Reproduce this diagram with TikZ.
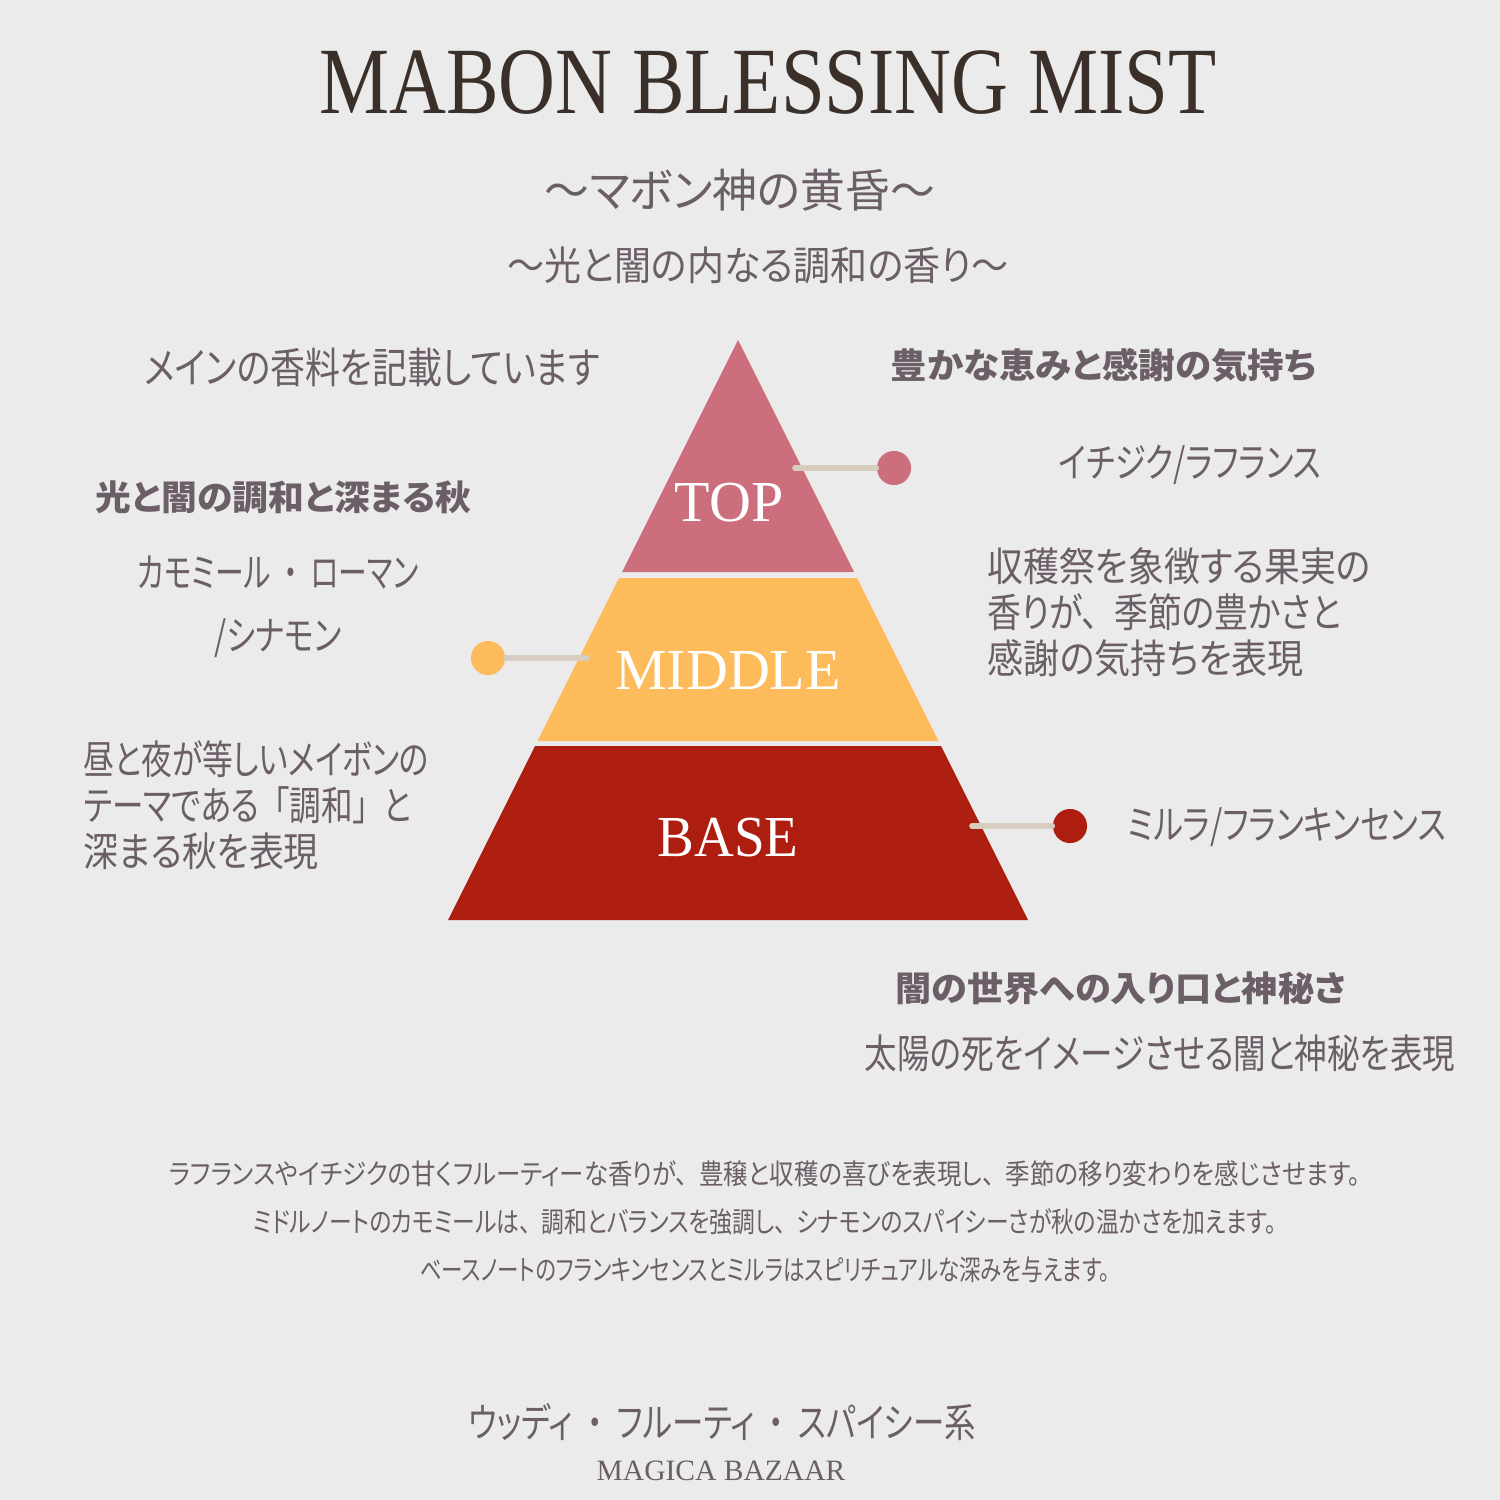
\documentclass[tikz,border=0pt]{standalone}
\usepackage{fontspec}
\setmainfont{Liberation Serif}
\newfontfamily\jp[RawFeature=+palt]{Noto Sans CJK JP}
\usepackage{tikz}
\usetikzlibrary{positioning}
\definecolor{bgc}{HTML}{EBEBEB}
\definecolor{ink}{HTML}{3A3029}
\definecolor{txt}{HTML}{6B5E67}
\definecolor{toppink}{HTML}{CC6E7B}
\definecolor{midyel}{HTML}{FDBB5B}
\definecolor{basered}{HTML}{AD1E10}
\definecolor{linkc}{HTML}{D6CCC0}
\newcommand{\fitx}[2]{\resizebox{#1}{\height}{#2}}
\newcommand{\gap}{\hspace{0.45em}}

\begin{document}
\begin{tikzpicture}[x=0.01cm,y=-0.01cm,
  jtxt/.style={text=txt,inner sep=0pt,font=\jp\fontsize{11.4pt}{13.1pt}\selectfont},
  jhead/.style={text=txt,inner sep=0pt,font=\jp\bfseries\fontsize{9.9pt}{11pt}\selectfont},
  band/.style={text=white,inner sep=0pt,font=\fontsize{16.5pt}{18pt}\selectfont},
  dot/.style={circle,minimum size=9.7pt,inner sep=0pt},
  link/.style={draw=linkc,line width=1.6pt,line cap=round}]
\fill[bgc](0,0)rectangle(1500,1500);
\useasboundingbox(0,0)rectangle(1500,1500);
% title
\node[text=ink,inner sep=0pt,font=\fontsize{27pt}{30pt}\selectfont](title) at (768,83){\scalebox{0.83}[1]{MABON BLESSING MIST}};
\node[text=txt,inner sep=0pt,font=\jp\fontsize{13pt}{15pt}\selectfont](sub1) at (740,190){\fitx{39mm}{～マボン神の黄昏～}};
\node[text=txt,inner sep=0pt,font=\jp\fontsize{11.4pt}{13pt}\selectfont](sub2) at (758,265){\fitx{50mm}{～光と闇の内なる調和の香り～}};
% pyramid
\fill[toppink](738,340)--(854,572)--(622,572)--cycle;
\fill[midyel](619,578)--(857,578)--(938.5,741)--(537.5,741)--cycle;
\fill[basered](535,746)--(941,746)--(1028,920)--(448,920)--cycle;
\node[band](top) at (729,503){TOP};
\node[band](middle) at (728,671){MIDDLE};
\node[band](base) at (728,838){\scalebox{0.95}[1]{BASE}};
% dots
\coordinate(topin) at (795,468);
\node[dot,fill=toppink](topdot) at (894,468){};
\draw[link](topin)--(topdot);
\coordinate(midin) at (587,658);
\node[dot,fill=midyel](middot) at (488,658){};
\draw[link](midin)--(middot);
\coordinate(basein) at (972,826);
\node[dot,fill=basered](basedot) at (1070,826){};
\draw[link](basein)--(basedot);
% left
\node[jtxt,font=\jp\fontsize{12pt}{14pt}\selectfont](memo) at (372,367){\fitx{45.5mm}{メインの香料を記載しています}};
\node[jhead,anchor=west](midhead) at (95,497){\fitx{37.5mm}{光と闇の調和と深まる秋}};
\node[jtxt](midnote1) at (278,573){\fitx{28.1mm}{カモミール\gap・\gap ローマン}};
\node[jtxt](midnote2) at (278,638){\fitx{12.7mm}{/シナモン}};
\node[jtxt,anchor=north west,align=left](middesc) at (83,740){\fitx{34.5mm}{昼と夜が等しいメイボンの}\\\fitx{32.7mm}{テーマである\gap「調和」\gap と}\\\fitx{23.5mm}{深まる秋を表現}};
% right
\node[jhead,anchor=west](tophead) at (890,365){\fitx{42.5mm}{豊かな恵みと感謝の気持ち}};
\node[jtxt](topnote) at (1190,465){\fitx{26.2mm}{イチジク/ラフランス}};
\node[jtxt,anchor=north west,align=left](topdesc) at (987,547){\fitx{38.3mm}{収穫祭を象徴する果実の}\\\fitx{35.3mm}{香りが、\gap 季節の豊かさと}\\\fitx{31.6mm}{感謝の気持ちを表現}};
\node[jtxt,anchor=west](basenote) at (1127,827){\fitx{31.8mm}{ミルラ/フランキンセンス}};
\node[jhead,anchor=west](basehead) at (895,988){\fitx{45mm}{闇の世界への入り口と神秘さ}};
\node[jtxt](basedesc) at (1160,1053){\fitx{59mm}{太陽の死をイメージさせる闇と神秘を表現}};
% bottom
\node[jtxt,align=center,font=\jp\fontsize{8pt}{13.6pt}\selectfont](summary) at (765,1222){\fitx{119mm}{ラフランスやイチジクの甘くフルーティーな香りが、\gap 豊穣と収穫の喜びを表現し、\gap 季節の移り変わりを感じさせます。}\\\fitx{102.3mm}{ミドルノートのカモミールは、\gap 調和とバランスを強調し、\gap シナモンのスパイシーさが秋の温かさを加えます。}\\\fitx{69mm}{ベースノートのフランキンセンスとミルラはスピリチュアルな深みを与えます。}};
\node[jtxt](family) at (722,1422){\fitx{50.7mm}{ウッディ\gap・\gap フルーティ\gap・\gap スパイシー系}};
\node[text=txt,inner sep=0pt,font=\fontsize{8.4pt}{10pt}\selectfont](brand) at (721,1471){MAGICA BAZAAR};
\end{tikzpicture}
\end{document}
